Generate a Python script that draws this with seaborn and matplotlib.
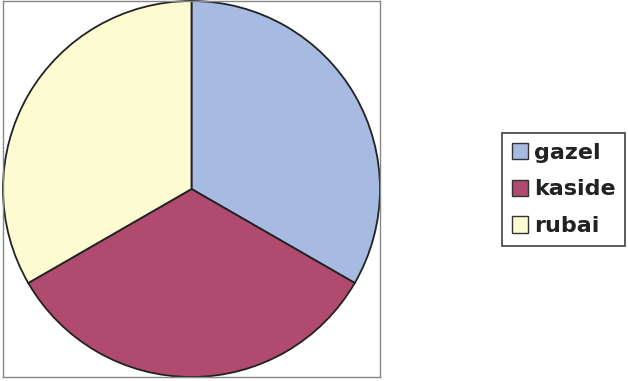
import matplotlib
matplotlib.use("Agg")
import matplotlib.pyplot as plt
import matplotlib.patches as mpatches
import seaborn as sns

categories = ["gazel", "kaside", "rubai"]
values = [1, 1, 1]
colors = ["#a6bae2", "#b04a6e", "#fdfbd2"]

sns.set_style("white")
plt.rcParams["font.family"] = ["Liberation Sans", "DejaVu Sans"]

fig = plt.figure(figsize=(6.28, 3.81), dpi=100)
ax = fig.add_axes([3/628, 4/381, 377/628, 376/381])
ax.pie(values, colors=sns.color_palette(colors), startangle=90, counterclock=False,
       radius=1.0, wedgeprops=dict(edgecolor="#222222", linewidth=1.3))
ax.axis("on")
ax.set_frame_on(True)
ax.set_xlim(-1.0, 1.0)
ax.set_ylim(-1.0, 1.0)
ax.set_aspect("auto")
ax.set_xticks([])
ax.set_yticks([])
for s in ax.spines.values():
    s.set_visible(True)
    s.set_color("#888888")
    s.set_linewidth(1.0)

handles = [mpatches.Patch(facecolor=c, edgecolor="#333333", linewidth=1.0, label=l)
           for c, l in zip(colors, categories)]
leg = fig.legend(handles=handles, loc="center", bbox_to_anchor=(563.5/628, 1 - 189.5/381),
                 frameon=True, fancybox=False,
                 prop=dict(family=["DejaVu Sans"], size=16, weight="bold"),
                 handlelength=0.75, handleheight=0.75, handletextpad=0.25,
                 labelspacing=0.75, borderpad=0.45, borderaxespad=0)
leg.get_frame().set_edgecolor("#222222")
leg.get_frame().set_linewidth(1.3)
for t in leg.get_texts():
    t.set_color("#222222")

fig.savefig("out.png", dpi=100)
